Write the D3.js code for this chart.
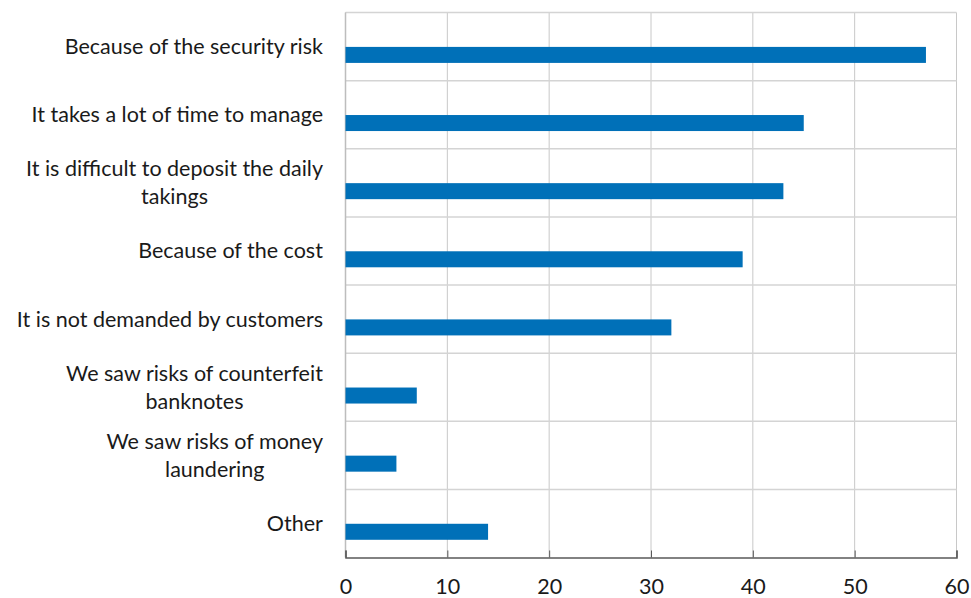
<!DOCTYPE html>
<html>
<head>
<meta charset="utf-8">
<script src="https://cdn.jsdelivr.net/npm/d3@7"></script>
<style>
  html, body { margin: 0; padding: 0; background: #fff; }
  svg text { font-family: Lato, "Open Sans", sans-serif; fill: #1a1a1a; }
</style>
</head>
<body>
<svg id="chart" width="971" height="598"></svg>
<script>
// Reasons given (each entry is split into display lines)
const categories = [
  ["Because of the security risk"],
  ["It takes a lot of time to manage"],
  ["It is difficult to deposit the daily", "takings"],
  ["Because of the cost"],
  ["It is not demanded by customers"],
  ["We saw risks of counterfeit", "banknotes"],
  ["We saw risks of money", "laundering"],
  ["Other"]
];
const values = [57, 45, 43, 39, 32, 7, 5, 14];
const xTicks = [0, 10, 20, 30, 40, 50, 60];

const svg = d3.select("#chart");
const margin = { top: 12.5, right: 14.5, bottom: 40.5, left: 345.5 };
const W = 971, H = 598;
const innerW = W - margin.left - margin.right;
const innerH = H - margin.top - margin.bottom;
const fontSize = 21.5;

const g = svg.append("g").attr("transform", `translate(${margin.left},${margin.top})`);

const x = d3.scaleLinear().domain([0, 60]).range([0, innerW]);
const y = d3.scaleBand().domain(d3.range(categories.length)).range([0, innerH]).paddingInner(0).paddingOuter(0);

// vertical gridlines
g.append("g").selectAll("line").data(xTicks).join("line")
  .attr("x1", d => x(d)).attr("x2", d => x(d))
  .attr("y1", 0).attr("y2", innerH)
  .attr("stroke", "#c8c8c8").attr("stroke-width", 1);

// horizontal separators between categories
g.append("g").selectAll("line").data(d3.range(categories.length)).join("line")
  .attr("x1", 0).attr("x2", innerW)
  .attr("y1", d => y(d)).attr("y2", d => y(d))
  .attr("stroke", "#d4d4d4").attr("stroke-width", 1.5);

// left axis line
g.append("line").attr("x1", 0).attr("x2", 0).attr("y1", 0).attr("y2", innerH)
  .attr("stroke", "#bdbdbd").attr("stroke-width", 1.5);

// bars occupy the lower slot of each band
const bw = y.bandwidth();
g.append("g").selectAll("rect").data(values).join("rect")
  .attr("x", 0)
  .attr("y", (d, i) => y(i) + bw * 0.505)
  .attr("width", d => x(d))
  .attr("height", bw * 0.235)
  .attr("fill", "#0070b8");

// bottom axis with inward ticks
const xAxis = d3.axisBottom(x).tickValues(xTicks).tickSize(-7).tickPadding(0).tickFormat(d3.format("d"));
const ax = g.append("g").attr("transform", `translate(0,${innerH})`).call(xAxis);
ax.select(".domain").attr("stroke", "#595959").attr("stroke-width", 1.5);
ax.selectAll(".tick line").attr("stroke", "#595959").attr("stroke-width", 1);
ax.selectAll(".tick text")
  .attr("font-size", fontSize)
  .attr("y", 29).attr("dy", "0.35em")
  .style("font-family", "Lato, 'Open Sans', sans-serif").attr("fill", "#1a1a1a");

// category labels
const lineH = 28;
const labels = svg.append("g");
categories.forEach((lines, i) => {
  const cy = margin.top + y(i) + bw / 2;
  const t = labels.append("text")
    .attr("font-size", fontSize)
    .attr("text-anchor", "middle");
  const n = lines.length;
  lines.forEach((s, k) => {
    t.append("tspan")
      .attr("x", 0)
      .attr("y", cy + (k - (n - 1) / 2) * lineH)
      .attr("dy", "0.35em")
      .text(s);
  });
  // right-align the block, centre the lines within it
  const bb = t.node().getBBox();
  t.selectAll("tspan").attr("x", 323 - bb.width / 2);
});
</script>
</body>
</html>
